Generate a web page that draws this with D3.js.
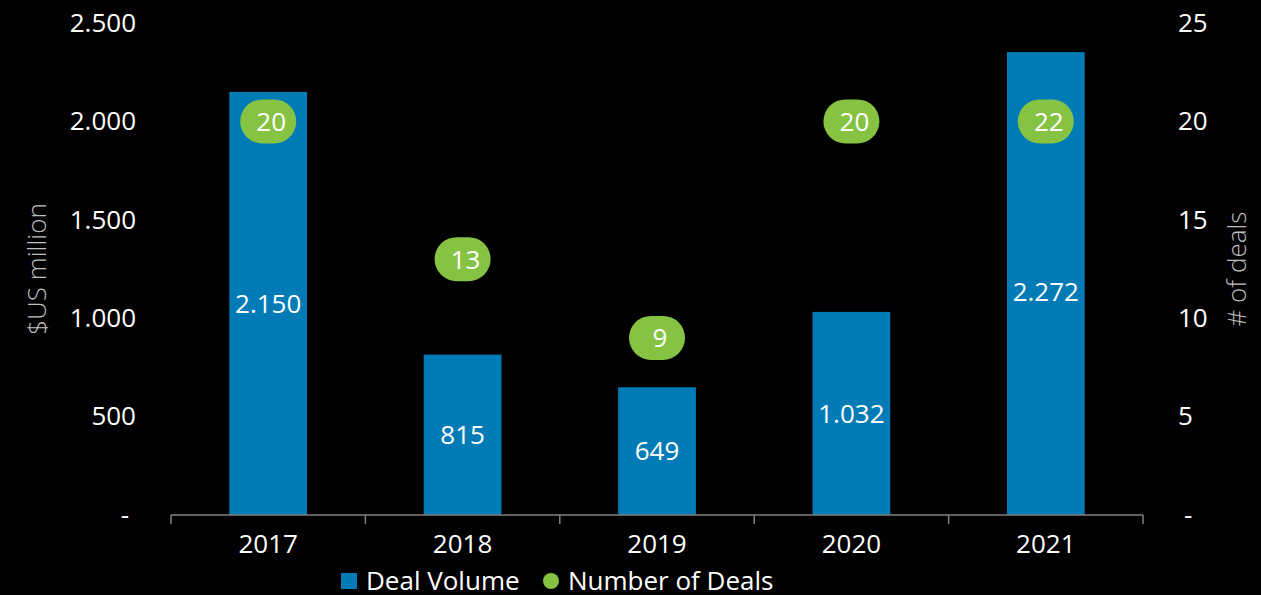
<!DOCTYPE html>
<html>
<head>
<meta charset="utf-8">
<script src="https://cdn.jsdelivr.net/npm/d3@7"></script>
<style>
    body { margin: 0; background: #000; }
    svg { display: block; font-family: 'Open Sans', sans-serif; }
    svg text { font-family: 'Open Sans', sans-serif; }
    .axis text { fill: #fff; font-size: 26px; }
</style>
</head>
<body>
<div id="chart"></div>
<script>
// chart data
const years = ['2017', '2018', '2019', '2020', '2021'];
const dealVolume = [2150, 815, 649, 1032, 2352];
const dealVolumeLabels = ['2.150', '815', '649', '1.032', '2.272'];
const dealCount = [20, 13, 9, 20, 20];
const dealCountLabels = ['20', '13', '9', '20', '22'];
const leftTicks = [0, 500, 1000, 1500, 2000, 2500];
const leftTickLabels = ['-', '500', '1.000', '1.500', '2.000', '2.500'];
const rightTicks = [0, 5, 10, 15, 20, 25];
const rightTickLabels = ['-', '5', '10', '15', '20', '25'];
const legendItems = ['Deal Volume', 'Number of Deals'];

const blue = '#007bb6';
const green = '#86c342';
const fontSize = '26px';

const width = 1261, height = 595;
const margin = { top: 23, right: 118, bottom: 80, left: 171 };
const innerW = width - margin.left - margin.right;
const innerH = height - margin.top - margin.bottom;

const svg = d3.select('#chart').append('svg')
    .attr('width', width)
    .attr('height', height)
    .style('background', '#000');

const chart = svg.append('g')
    .attr('transform', `translate(${margin.left},${margin.top})`);

// scales
const xScale = d3.scaleBand()
    .domain(years)
    .range([0, innerW])
    .paddingInner(0.6)
    .paddingOuter(0.3);

const yLeft = d3.scaleLinear().domain([0, 2500]).range([innerH, 0]);
const yRight = d3.scaleLinear().domain([0, 25]).range([innerH, 0]);

// bars
chart.selectAll('.bar')
    .data(dealVolume)
    .join('rect')
    .attr('class', 'bar')
    .attr('x', (d, i) => xScale(years[i]))
    .attr('y', d => yLeft(d))
    .attr('width', xScale.bandwidth())
    .attr('height', d => innerH - yLeft(d))
    .attr('fill', blue);

// labels sit at the middle of the labelled value
chart.selectAll('.bar-label')
    .data(dealVolumeLabels)
    .join('text')
    .attr('class', 'bar-label')
    .attr('x', (d, i) => xScale(years[i]) + xScale.bandwidth() / 2)
    .attr('y', d => (yLeft(+d.replace('.', '')) + innerH) / 2)
    .attr('dy', '0.35em')
    .attr('text-anchor', 'middle')
    .attr('fill', '#fff')
    .style('font-size', fontSize)
    .text(d => d);

// x axis, ticks sit on the band boundaries
const step = xScale.step();
const xAxisG = chart.append('g')
    .attr('transform', `translate(0,${innerH})`);
xAxisG.append('line')
    .attr('x1', 0).attr('x2', innerW)
    .attr('stroke', '#808080').attr('stroke-width', 1.5);
xAxisG.selectAll('.xtick')
    .data(d3.range(years.length + 1))
    .join('line')
    .attr('class', 'xtick')
    .attr('x1', i => i * step).attr('x2', i => i * step)
    .attr('y1', 0).attr('y2', 9)
    .attr('stroke', '#808080').attr('stroke-width', 1.5);
xAxisG.selectAll('.xlabel')
    .data(years)
    .join('text')
    .attr('class', 'xlabel')
    .attr('x', d => xScale(d) + xScale.bandwidth() / 2)
    .attr('y', 29)
    .attr('dy', '0.35em')
    .attr('text-anchor', 'middle')
    .attr('fill', '#fff')
    .style('font-size', fontSize)
    .text(d => d);

// left axis
const leftAxis = d3.axisLeft(yLeft)
    .tickValues(leftTicks)
    .tickSize(0)
    .tickPadding(35)
    .tickFormat((d, i) => leftTickLabels[i]);
chart.append('g')
    .attr('class', 'axis')
    .call(leftAxis)
    .call(g => g.select('.domain').remove())
    .call(g => g.selectAll('.tick text').filter(d => d === 0).attr('dx', -7));

// right axis
const rightAxis = d3.axisRight(yRight)
    .tickValues(rightTicks)
    .tickSize(0)
    .tickPadding(35)
    .tickFormat((d, i) => rightTickLabels[i]);
chart.append('g')
    .attr('class', 'axis')
    .attr('transform', `translate(${innerW},0)`)
    .call(rightAxis)
    .call(g => g.select('.domain').remove())
    .call(g => g.selectAll('.tick text').filter(d => d === 0).attr('dx', 6));

// axis titles
svg.append('text')
    .attr('transform', `translate(46,${margin.top + innerH / 2}) rotate(-90)`)
    .attr('text-anchor', 'middle')
    .attr('fill', '#bfbfbf')
    .style('font-size', fontSize)
    .style('font-weight', 300)
    .text('$US million');

svg.append('text')
    .attr('transform', `translate(1246,${margin.top + innerH / 2}) rotate(-90)`)
    .attr('text-anchor', 'middle')
    .attr('fill', '#bfbfbf')
    .style('font-size', fontSize)
    .style('font-weight', 300)
    .text('# of deals');

// number of deals markers
const pillW = 56, pillH = 44;
const pills = chart.selectAll('.pill')
    .data(dealCount)
    .join('g')
    .attr('class', 'pill')
    .attr('transform', (d, i) =>
        `translate(${xScale(years[i]) + xScale.bandwidth() / 2},${yRight(d)})`);
pills.append('rect')
    .attr('x', -pillW / 2).attr('y', -pillH / 2)
    .attr('width', pillW).attr('height', pillH)
    .attr('rx', pillH / 2)
    .attr('fill', green);
pills.append('text')
    .attr('x', 3)
    .attr('dy', '0.36em')
    .attr('text-anchor', 'middle')
    .attr('fill', '#fff')
    .style('font-size', fontSize)
    .text((d, i) => dealCountLabels[i]);

// legend
const legend = svg.append('g').attr('transform', 'translate(341,581)');
legend.append('rect')
    .attr('x', 0).attr('y', -8)
    .attr('width', 16).attr('height', 16)
    .attr('fill', blue);
legend.append('text')
    .attr('x', 25).attr('dy', '0.35em')
    .attr('fill', '#fff')
    .style('font-size', fontSize)
    .text(legendItems[0]);
legend.append('circle')
    .attr('cx', 210).attr('cy', 0).attr('r', 8)
    .attr('fill', green);
legend.append('text')
    .attr('x', 227).attr('dy', '0.35em')
    .attr('fill', '#fff')
    .style('font-size', fontSize)
    .text(legendItems[1]);
</script>
</body>
</html>
